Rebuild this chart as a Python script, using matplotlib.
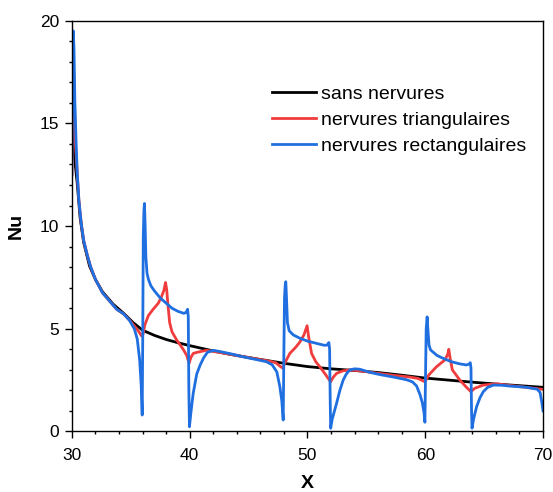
import matplotlib
matplotlib.use("Agg")
import matplotlib.pyplot as plt
from matplotlib.ticker import MultipleLocator

plt.rcParams['font.family'] = ['Liberation Sans', 'DejaVu Sans']

# Nusselt number along the channel wall
x_plain = [30.0, 30.06, 30.15, 30.3, 30.45, 30.7, 31.0, 31.5, 32.0, 32.6, 33.5, 34.4,
           35.2, 36.0, 37.0, 38.0, 39.0, 40.0, 41.0, 42.0, 43.5, 45.0, 46.5, 48.0,
           50.0, 52.0, 54.0, 56.0, 58.0, 60.0, 62.0, 64.0, 66.0, 68.0, 70.0]
nu_plain = [13.5, 15.0, 14.0, 12.9, 12.1, 10.4, 9.2, 8.05, 7.4, 6.8, 6.2, 5.75,
            5.3, 4.93, 4.68, 4.48, 4.32, 4.18, 4.05, 3.92, 3.75, 3.6, 3.46, 3.32,
            3.16, 3.05, 2.97, 2.87, 2.74, 2.6, 2.5, 2.4, 2.31, 2.23, 2.15]

x_tri = [30.0, 30.08, 30.18, 30.3, 30.45, 30.6, 30.8, 31.0, 31.3, 31.6, 32.0, 32.6,
         33.2, 33.8, 34.4, 35.0, 35.5, 35.75, 35.92, 36.05, 36.2, 36.5, 36.9, 37.33,
         37.6, 37.8, 37.95, 38.05, 38.15, 38.3, 38.5, 38.9, 39.45, 39.75, 39.95, 40.1,
         40.3, 40.6, 41.4, 42.0, 43.5, 45.0, 46.0, 46.8, 47.3, 47.66, 47.92, 48.05,
         48.5, 49.0, 49.35, 49.7, 49.97, 50.1, 50.35, 50.7, 51.05, 51.5, 51.96, 52.2,
         52.47, 53.0, 53.6, 54.5, 56.0, 57.5, 58.7, 59.4, 59.97, 60.3, 60.95, 61.66,
         61.9, 62.0, 62.1, 62.3, 62.94, 63.5, 63.87, 64.2, 64.93, 66.07, 67.5, 69.0,
         70.0]
nu_tri = [12.5, 18.5, 17.0, 14.0, 12.6, 11.2, 10.1, 9.3, 8.6, 8.0, 7.4, 6.75,
          6.35, 5.95, 5.72, 5.35, 5.0, 4.8, 4.65, 4.75, 5.2, 5.65, 5.95, 6.24,
          6.55, 6.85, 7.25, 6.9, 6.2, 5.3, 4.85, 4.45, 4.0, 3.7, 3.32, 3.6,
          3.8, 3.85, 3.95, 3.9, 3.75, 3.6, 3.5, 3.42, 3.35, 3.18, 3.08, 3.3,
          3.8, 4.1, 4.35, 4.7, 5.15, 4.6, 3.8, 3.4, 3.15, 2.8, 2.42, 2.65,
          2.83, 2.95, 3.0, 2.95, 2.83, 2.72, 2.65, 2.58, 2.42, 2.75, 3.15, 3.48,
          3.75, 4.0, 3.6, 3.0, 2.5, 2.15, 1.94, 2.1, 2.26, 2.32, 2.22, 2.12,
          2.05]

x_rect = [30.0, 30.06, 30.12, 30.18, 30.25, 30.35, 30.45, 30.6, 30.8, 31.0, 31.3, 31.6,
          32.0, 32.6, 33.2, 33.8, 34.4, 34.9, 35.3, 35.55, 35.75, 35.88, 35.97, 36.02,
          36.06, 36.12, 36.16, 36.22, 36.28, 36.38, 36.5, 36.7, 37.0, 37.5, 38.0, 38.5,
          39.0, 39.5, 39.7, 39.82, 39.88, 39.93, 39.98, 40.1, 40.3, 40.6, 40.9, 41.2,
          41.5, 42.0, 42.5, 43.5, 44.5, 45.5, 46.5, 47.0, 47.4, 47.65, 47.82, 47.94,
          48.0, 48.05, 48.12, 48.16, 48.22, 48.3, 48.45, 48.8, 49.35, 50.0, 50.76, 51.4,
          51.65, 51.82, 51.88, 51.93, 51.97, 52.1, 52.47, 52.75, 53.03, 53.3, 53.6, 54.0,
          54.45, 55.3, 56.15, 57.3, 58.4, 58.9, 59.26, 59.55, 59.75, 59.9, 59.97, 60.03,
          60.08, 60.16, 60.22, 60.32, 60.45, 61.0, 61.52, 62.2, 62.94, 63.5, 63.72, 63.82,
          63.88, 63.93, 63.97, 64.1, 64.36, 64.65, 64.93, 65.3, 65.8, 66.5, 67.2, 68.6,
          69.5, 69.75, 69.9, 70.0]
nu_rect = [12.5, 17.0, 19.5, 18.6, 16.1, 14.2, 12.6, 11.2, 10.1, 9.3, 8.6, 8.0,
           7.4, 6.75, 6.35, 5.95, 5.72, 5.4, 5.0, 4.5, 3.5, 2.3, 0.8, 5.0,
           9.5, 10.8, 11.1, 10.0, 8.5, 7.7, 7.4, 7.1, 6.85, 6.5, 6.25, 6.0,
           5.85, 5.75, 5.8, 5.95, 5.6, 2.0, 0.23, 0.9, 1.86, 2.8, 3.25, 3.6,
           3.85, 3.95, 3.9, 3.78, 3.64, 3.52, 3.4, 3.25, 2.9, 2.2, 1.5, 0.56,
           4.0, 6.5, 7.2, 7.29, 6.5, 5.3, 4.9, 4.7, 4.54, 4.4, 4.29, 4.2,
           4.2, 4.33, 4.0, 1.5, 0.16, 0.6, 1.37, 2.0, 2.5, 2.8, 3.0, 3.05,
           3.03, 2.88, 2.77, 2.65, 2.52, 2.42, 2.22, 1.8, 1.4, 0.9, 0.45, 3.0,
           5.0, 5.58, 5.0, 4.2, 3.97, 3.7, 3.56, 3.4, 3.29, 3.24, 3.28, 3.35,
           3.1, 1.0, 0.16, 0.6, 1.21, 1.65, 1.94, 2.15, 2.26, 2.25, 2.21, 2.15,
           2.06, 1.9, 1.4, 1.0]

labels = ["sans nervures", "nervures triangulaires", "nervures rectangulaires"]
colors = ["#000000", "#f03c3c", "#1f6fe0"]

fig = plt.figure(figsize=(5.53, 4.92), dpi=100)
ax = fig.add_axes([0.130, 0.123, 0.852, 0.835])

ax.plot(x_plain, nu_plain, color=colors[0], lw=2.0, label=labels[0])
ax.plot(x_tri, nu_tri, color=colors[1], lw=2.0, label=labels[1])
ax.plot(x_rect, nu_rect, color=colors[2], lw=2.0, label=labels[2])

ax.set_xlim(30, 70)
ax.set_ylim(0, 20)
ax.xaxis.set_major_locator(MultipleLocator(10))
ax.xaxis.set_minor_locator(MultipleLocator(2))
ax.yaxis.set_major_locator(MultipleLocator(5))
ax.yaxis.set_minor_locator(MultipleLocator(1))
ax.tick_params(which='both', direction='out', width=1.0, labelsize=12.5,
               top=False, right=False)
ax.tick_params(which='major', length=5)
ax.tick_params(which='minor', length=2.5)
ax.tick_params(axis='x', which='major', pad=7)
ax.tick_params(axis='y', which='major', pad=4)
for s in ax.spines.values():
    s.set_linewidth(1.0)

ax.set_xlabel("X", fontsize=14, fontweight='bold')
ax.set_ylabel("Nu", fontsize=14, fontweight='bold')
ax.xaxis.set_label_coords(0.5, -0.105)
ax.yaxis.set_label_coords(-0.10, 0.5)

ax.legend(loc='upper left', bbox_to_anchor=(0.424, 0.842), frameon=False,
          fontsize=14, handlelength=2.3, handletextpad=0.26, labelspacing=0.42,
          borderpad=0, borderaxespad=0)

fig.savefig("out.png", dpi=100)
